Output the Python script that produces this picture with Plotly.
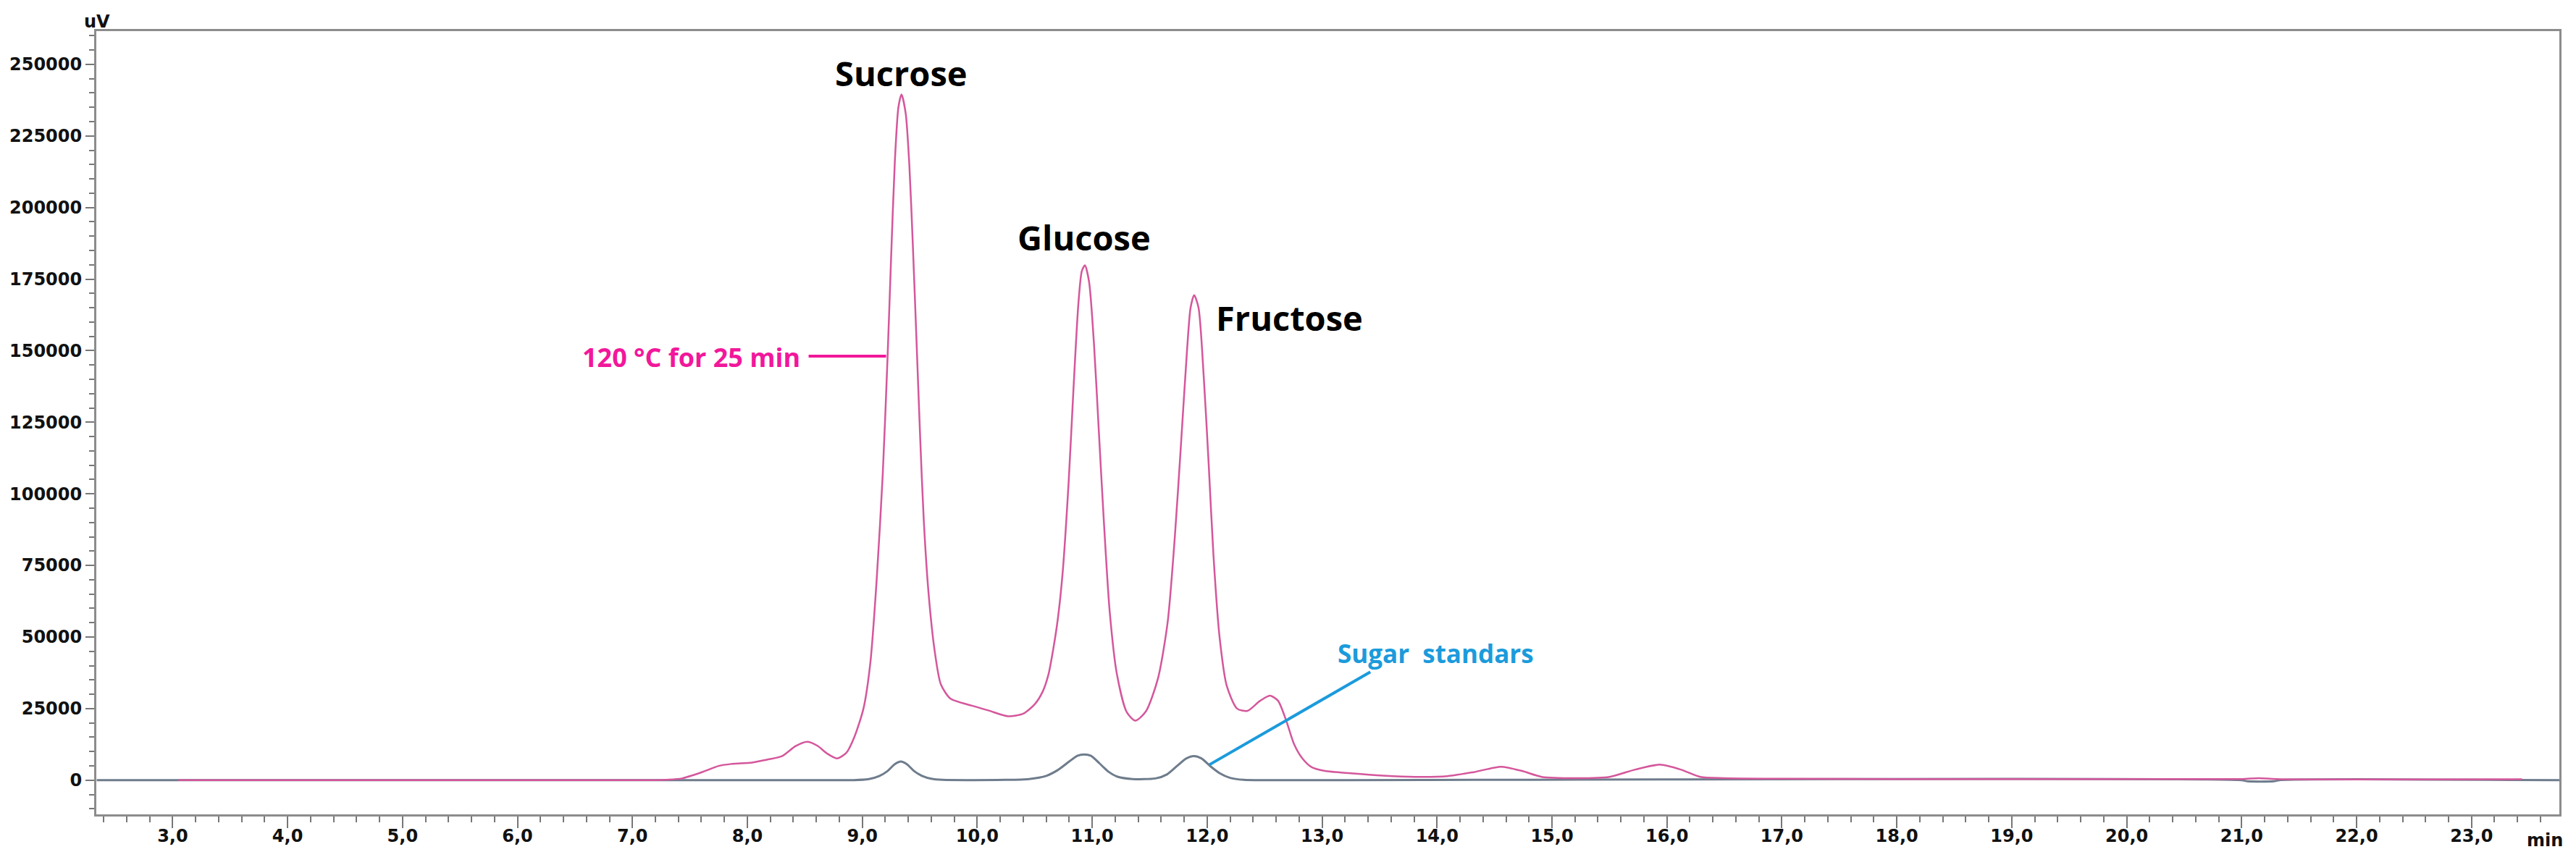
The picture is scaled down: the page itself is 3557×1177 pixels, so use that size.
import plotly.graph_objects as go

# ---------------- data ----------------
# 120 °C for 25 min sample (pink trace): retention time (min), signal (uV)
sample_time = [3.05, 7.20, 7.30, 7.43, 7.60, 7.75, 7.86, 8.04, 8.17, 8.30, 8.42, 8.52, 8.61, 8.69,
               8.78, 8.86, 8.93, 9.01, 9.07, 9.125, 9.178, 9.22, 9.251, 9.283, 9.314, 9.341,
               9.377, 9.409, 9.44, 9.472, 9.504, 9.535, 9.577, 9.63, 9.683, 9.766, 9.955, 10.10,
               10.27, 10.40, 10.50, 10.57, 10.62, 10.66, 10.70, 10.742, 10.795, 10.837,
               10.88, 10.91, 10.937, 10.973, 11.016, 11.057, 11.10, 11.152, 11.215, 11.30, 11.375,
               11.467, 11.572, 11.656, 11.719, 11.772, 11.824, 11.856, 11.887, 11.925, 11.971,
               12.013, 12.055, 12.108, 12.17, 12.26, 12.35, 12.46, 12.547, 12.617, 12.687,
               12.757, 12.83, 12.91, 13.025, 13.25, 13.53, 13.81, 14.09, 14.32, 14.557, 14.74,
               14.91, 15.22, 15.5, 15.725, 15.937, 16.12, 16.29, 16.49, 17.0, 18.0, 20.0, 21.0,
               21.15, 21.3, 23.44]
sample_uv = [0, 0, 150, 600, 2700, 4950, 5650, 6100, 7150, 8350, 11900, 13400, 12000, 9400,
             7600, 9500, 15000, 25000, 41000, 70000, 107000, 148000, 183000, 216000, 235000, 239500,
             233000, 215000, 186500, 153000, 119000, 90500, 65000, 45000, 33500, 28500, 26000, 24300,
             22300, 23200, 26500, 31000, 37000, 45500, 56000, 72000, 104000, 136500,
             166500, 177800, 179800, 174000, 152000, 122400, 91400, 59000, 37000, 23800, 20800,
             24000, 35500, 55000, 85000, 117000, 149500, 165000, 169400, 165000, 140500,
             110700, 78500, 50000, 33000, 25000, 24200, 27700, 29500, 27700, 20900,
             12500, 7500, 4500, 3200, 2400, 1600, 1150, 1400, 2800, 4700, 3200,
             1150, 700, 1150, 3700, 5400, 3700, 1150, 700, 500, 400, 400, 400,
             700, 400, 300]

# Sugar standards (gray trace)
standard_time = [2.34, 8.90, 9.05, 9.15, 9.22, 9.28, 9.335, 9.39, 9.45, 9.52, 9.60, 9.70, 10.25,
                 10.45, 10.60, 10.70, 10.80, 10.87, 10.93, 10.99, 11.06, 11.14, 11.22, 11.35, 11.55,
                 11.65, 11.74, 11.82, 11.885, 11.95, 12.03, 12.11, 12.20, 12.32, 12.45, 21.0, 21.05,
                 21.28, 21.33, 23.77]
standard_uv = [0, 0, 300, 1500, 3200, 5500, 6500, 5500, 3200, 1500, 500, 100, 100,
               400, 1500, 3500, 6500, 8500, 9000, 8500, 6000, 3000, 1200, 400, 600,
               2000, 5000, 7600, 8400, 7600, 4800, 2400, 800, 100, 0, 0, -400,
               -400, 0, 0]

x_tick_values = [3, 4, 5, 6, 7, 8, 9, 10, 11, 12, 13, 14, 15, 16, 17, 18, 19, 20, 21, 22, 23]
x_tick_labels = ["3,0", "4,0", "5,0", "6,0", "7,0", "8,0", "9,0", "10,0", "11,0", "12,0", "13,0",
                 "14,0", "15,0", "16,0", "17,0", "18,0", "19,0", "20,0", "21,0", "22,0", "23,0"]
y_tick_values = [0, 25000, 50000, 75000, 100000, 125000, 150000, 175000, 200000, 225000, 250000]
y_tick_labels = ["0", "25000", "50000", "75000", "100000", "125000", "150000", "175000",
                 "200000", "225000", "250000"]

peak_names = ["Sucrose", "Glucose", "Fructose"]
sample_label = "120 °C for 25 min"
standard_label = "Sugar\u00a0 standars"

# ---------------- styles ----------------
PINK = "#D4579B"
GRAY = "#6E7C8C"
MAGENTA = "#F2179B"
BLUE = "#1B9BDC"
FRAME = "#8C8C8C"
TICKFONT = dict(family="DejaVu Sans", size=24, color="#111111", weight="bold")
LABELFONT = "Open Sans"

fig = go.Figure()
fig.add_trace(go.Scatter(x=standard_time, y=standard_uv, mode="lines",
                         line=dict(color=GRAY, width=3, shape="spline", smoothing=0.7),
                         hoverinfo="skip", showlegend=False))
fig.add_trace(go.Scatter(x=sample_time, y=sample_uv, mode="lines",
                         line=dict(color=PINK, width=2.5, shape="spline", smoothing=0.7),
                         hoverinfo="skip", showlegend=False))

# leader lines
fig.add_shape(type="line", xref="x", yref="y", x0=8.533, x1=9.207, y0=148100, y1=148100,
              line=dict(color=MAGENTA, width=4))
fig.add_shape(type="line", xref="x", yref="y", x0=12.02, x1=13.42, y0=5400, y1=37800,
              line=dict(color=BLUE, width=4))

ann = []
peak_pos = [(9.341, 247000), (10.929, 189500), (12.717, 161500)]
for name, (px, py) in zip(peak_names, peak_pos):
    ann.append(dict(x=px, y=py, xref="x", yref="y", text=name, showarrow=False,
                    xanchor="center", yanchor="middle",
                    font=dict(family=LABELFONT, size=47, color="#000000", weight="bold")))
ann.append(dict(x=7.514, y=147600, xref="x", yref="y", text=sample_label, showarrow=False,
                xanchor="center", yanchor="middle",
                font=dict(family=LABELFONT, size=36, color=MAGENTA, weight="bold")))
ann.append(dict(x=13.991, y=44400, xref="x", yref="y", text=standard_label, showarrow=False,
                xanchor="center", yanchor="middle",
                font=dict(family=LABELFONT, size=35, color=BLUE, weight="bold")))
ann.append(dict(x=23.639, y=-0.0333, xref="x", yref="paper", text="min", showarrow=False,
                xanchor="center", yanchor="middle", font=TICKFONT))
ann.append(dict(x=0.0003, y=1.0124, xref="paper", yref="paper", text="uV", showarrow=False,
                xanchor="center", yanchor="middle", font=TICKFONT))

fig.update_layout(
    width=3557, height=1177,
    margin=dict(l=125, r=31, t=35, b=60, autoexpand=False),
    paper_bgcolor="white", plot_bgcolor="white",
    annotations=ann,
    xaxis=dict(range=[2.336, 23.764], tickmode="array", tickvals=x_tick_values,
               ticktext=x_tick_labels, ticks="outside", ticklen=16, tickwidth=2,
               tickcolor="#777777", showgrid=False, zeroline=False, automargin=False,
               showline=True, linecolor=FRAME, linewidth=3, mirror=True,
               tickfont=TICKFONT, ticklabelstandoff=-10,
               minor=dict(dtick=0.2, tick0=0, ticks="outside", ticklen=8, tickwidth=2,
                          tickcolor="#777777", showgrid=False)),
    yaxis=dict(range=[-11950, 261600], tickmode="array", tickvals=y_tick_values,
               ticktext=y_tick_labels, ticks="outside", ticklen=12, tickwidth=2,
               tickcolor="#777777", showgrid=False, zeroline=False, automargin=False,
               showline=True, linecolor=FRAME, linewidth=3, mirror=True,
               tickfont=TICKFONT, ticklabelstandoff=0,
               minor=dict(dtick=5000, tick0=0, ticks="outside", ticklen=7, tickwidth=2,
                          tickcolor="#777777", showgrid=False)),
)

fig.write_html("out.html")
